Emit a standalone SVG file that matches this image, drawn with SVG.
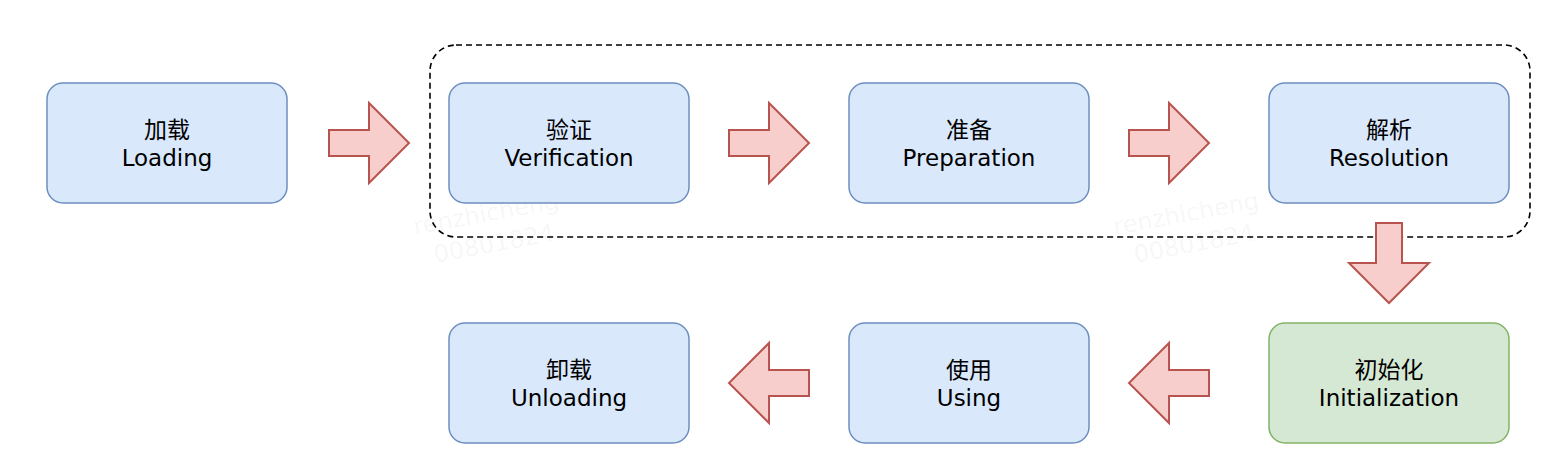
<svg xmlns="http://www.w3.org/2000/svg" width="1566" height="464" viewBox="0 0 1566 464">
<style>
.blue{fill:#dae8fc;stroke:#6c8ebf;stroke-width:1.5}
.green{fill:#d5e8d4;stroke:#82b366;stroke-width:1.5}
.arr{fill:#f8cecc;stroke:#b85450;stroke-width:2}
.t{font-family:"DejaVu Sans","Noto Sans CJK SC",sans-serif;font-size:23px;fill:#000;text-anchor:middle}
.wm{font-family:"DejaVu Sans",sans-serif;font-size:24px;fill:#000;fill-opacity:0.05}
</style>
<rect width="1566" height="464" fill="#fff"/>
<g id="group-box">
<rect x="430" y="45" width="1100" height="192" rx="26" fill="none" stroke="#000" stroke-width="1.6" stroke-dasharray="6 4"/>
</g>
<g id="watermarks">
<g transform="rotate(-10.5 415 235)"><text class="wm" x="415" y="235">renzhicheng</text><text class="wm" x="430" y="266">00801824</text></g>
<g transform="rotate(-10.5 1115 235)"><text class="wm" x="1115" y="235">renzhicheng</text><text class="wm" x="1130" y="266">00801824</text></g>
</g>
<g id="connectors">
<path class="arr" d="M329,130 H369 V103 L409,143 L369,183 V156 H329 Z"/>
<path class="arr" d="M729,130 H769 V103 L809,143 L769,183 V156 H729 Z"/>
<path class="arr" d="M1129,130 H1169 V103 L1209,143 L1169,183 V156 H1129 Z"/>
<path class="arr" d="M1376,223 H1402 V263 H1429 L1389,303 L1349,263 H1376 Z"/>
<path class="arr" d="M1209,370 H1169 V343 L1129,383 L1169,423 V396 H1209 Z"/>
<path class="arr" d="M809,370 H769 V343 L729,383 L769,423 V396 H809 Z"/>
</g>
<g id="loading">
<rect class="blue" x="47" y="83" width="240" height="120" rx="16"/>
<text class="t" x="167" y="138">加载</text><text class="t" x="167" y="166">Loading</text>
</g>
<g id="verification">
<rect class="blue" x="449" y="83" width="240" height="120" rx="16"/>
<text class="t" x="569" y="138">验证</text><text class="t" x="569" y="166">Verification</text>
</g>
<g id="preparation">
<rect class="blue" x="849" y="83" width="240" height="120" rx="16"/>
<text class="t" x="969" y="138">准备</text><text class="t" x="969" y="166">Preparation</text>
</g>
<g id="resolution">
<rect class="blue" x="1269" y="83" width="240" height="120" rx="16"/>
<text class="t" x="1389" y="138">解析</text><text class="t" x="1389" y="166">Resolution</text>
</g>
<g id="initialization">
<rect class="green" x="1269" y="323" width="240" height="120" rx="16"/>
<text class="t" x="1389" y="378">初始化</text><text class="t" x="1389" y="406">Initialization</text>
</g>
<g id="using">
<rect class="blue" x="849" y="323" width="240" height="120" rx="16"/>
<text class="t" x="969" y="378">使用</text><text class="t" x="969" y="406">Using</text>
</g>
<g id="unloading">
<rect class="blue" x="449" y="323" width="240" height="120" rx="16"/>
<text class="t" x="569" y="378">卸载</text><text class="t" x="569" y="406">Unloading</text>
</g>
</svg>
